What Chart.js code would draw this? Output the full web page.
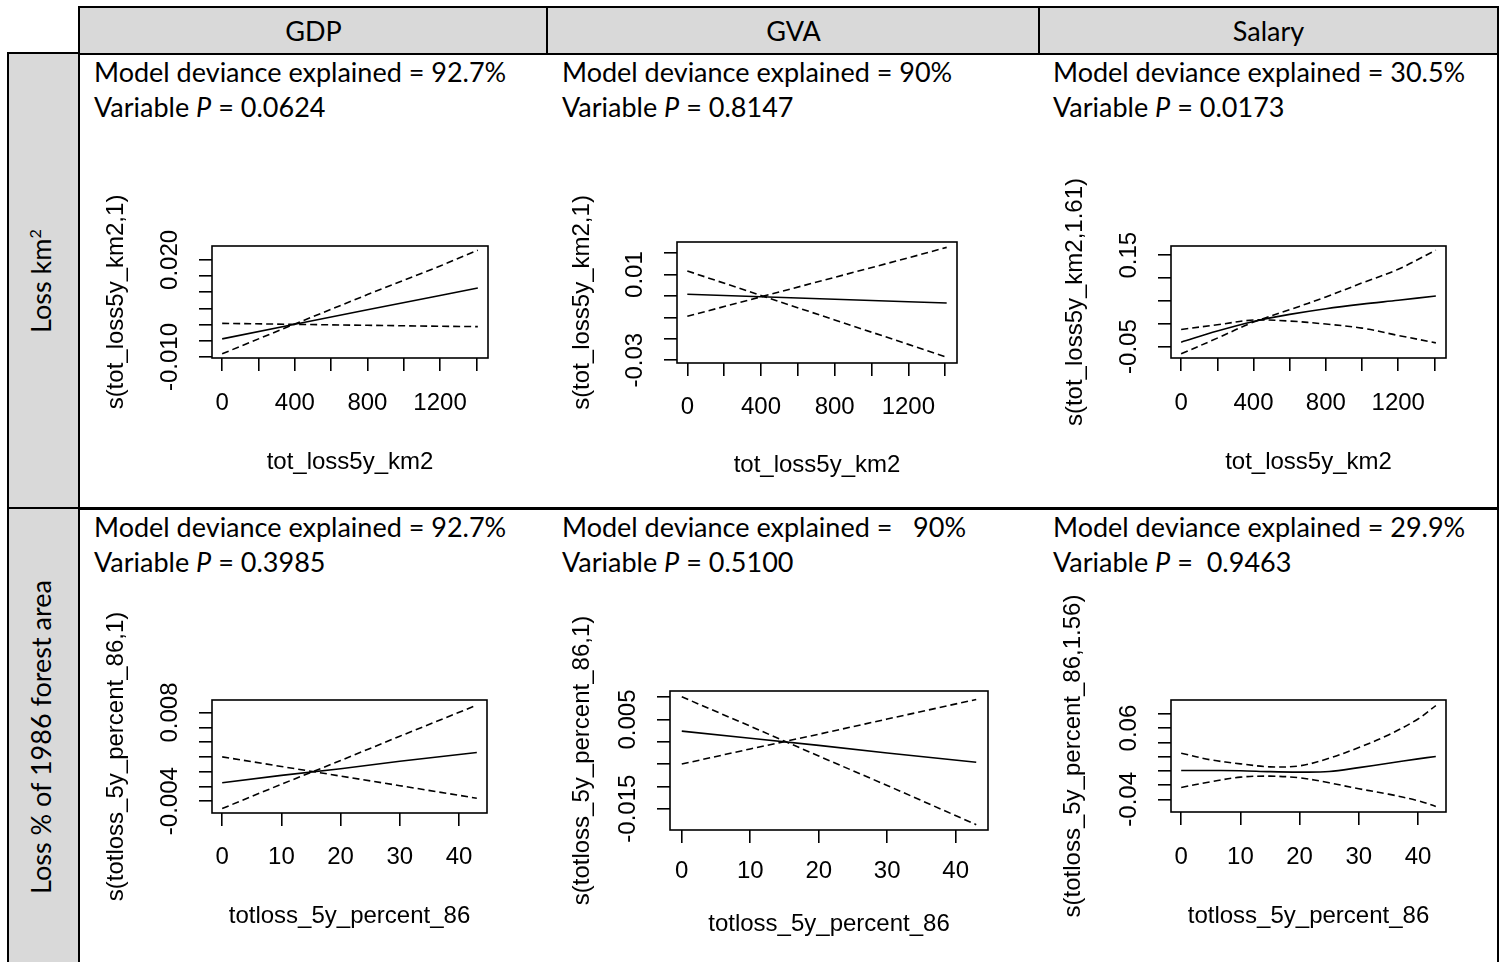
<!DOCTYPE html>
<html>
<head>
<meta charset="utf-8">
<script src="https://cdn.jsdelivr.net/npm/chart.js@4.4.1/dist/chart.umd.min.js"></script>
<style>
  body { margin: 0; width: 1501px; height: 962px; overflow: hidden; position: relative; background: #fff; font-family: Lato, "Open Sans", sans-serif; color: #000; }
  .box { position: absolute; box-sizing: border-box; border: 2px solid #000; }
  .grey { background: #d9d9d9; }
  .hdr { display: flex; align-items: center; justify-content: center; font-size: 27px; }
  .note { position: absolute; font-size: 27px; line-height: 35px; white-space: pre; }
  .side { position: absolute; font-size: 27px; white-space: nowrap; transform: translate(-50%, -50%) rotate(-90deg); }
  canvas { position: absolute; }
</style>
</head>
<body>
<!-- tabla -->
<div class="box" style="left:78px;top:52px;width:1421px;height:458px;"></div>
<div class="box" style="left:78px;top:507px;width:1421px;height:470px;"></div>
<div class="box grey" style="left:7px;top:52px;width:73px;height:458px;"></div>
<div class="box grey" style="left:7px;top:507px;width:73px;height:470px;"></div>
<div class="box grey hdr" style="left:78px;top:6px;width:471px;height:49px;">GDP</div>
<div class="box grey hdr" style="left:546px;top:6px;width:495px;height:49px;">GVA</div>
<div class="box grey hdr" style="left:1038px;top:6px;width:461px;height:49px;">Salary</div>

<div class="side" style="left:40px;top:281px;">Loss km<sup style="font-size:60%">2</sup></div>
<div class="side" style="left:40px;top:737px;">Loss % of 1986 forest area</div>

<div class="note" style="left:94px;top:54px;">Model deviance explained = 92.7%<br>Variable <i>P</i> = 0.0624</div>
<div class="note" style="left:562px;top:54px;">Model deviance explained = 90%<br>Variable <i>P</i> = 0.8147</div>
<div class="note" style="left:1053px;top:54px;">Model deviance explained = 30.5%<br>Variable <i>P</i> = 0.0173</div>
<div class="note" style="left:94px;top:509px;">Model deviance explained = 92.7%<br>Variable <i>P</i> = 0.3985</div>
<div class="note" style="left:562px;top:509px;">Model deviance explained =   90%<br>Variable <i>P</i> = 0.5100</div>
<div class="note" style="left:1053px;top:509px;">Model deviance explained = 29.9%<br>Variable <i>P</i> =  0.9463</div>

<canvas id="gdpKm"></canvas>
<canvas id="gvaKm"></canvas>
<canvas id="salKm"></canvas>
<canvas id="gdpPct"></canvas>
<canvas id="gvaPct"></canvas>
<canvas id="salPct"></canvas>

<script>
Chart.defaults.font.family = '"Liberation Sans", Arial, sans-serif';
Chart.defaults.font.size = 24;
Chart.defaults.color = '#000';

// ---- ejes ----
const kmTicks = [0, 200, 400, 600, 800, 1000, 1200, 1400];
const kmTickLabels = [0, 400, 800, 1200];
const pctTicks = [0, 10, 20, 30, 40];
const pctTickLabels = [0, 10, 20, 30, 40];

// ---- GDP ~ tot_loss5y_km2 ----
const gdpKmX = [0, 400, 800, 1200, 1408];
const gdpKmFit = [-0.0044, 0.0001, 0.0046, 0.0090, 0.0113];
const gdpKmUp = [-0.0090, 0.0002, 0.0093, 0.0181, 0.0230];
const gdpKmLo = [0.0004, 0.0001, -0.0002, -0.0005, -0.0006];
const gdpKmYTicks = [-0.010, -0.005, 0, 0.005, 0.010, 0.015, 0.020];
const gdpKmYLabels = ['-0.010', '0.020'];
const gdpKmYLabelVals = [-0.010, 0.020];

// ---- GVA ~ tot_loss5y_km2 ----
const gvaKmX = [0, 400, 800, 1200, 1408];
const gvaKmFit = [0.0008, -0.0004, -0.0015, -0.0027, -0.0033];
const gvaKmDown = [0.0117, 0.0002, -0.0112, -0.0226, -0.0286];
const gvaKmUp = [-0.0095, -0.0004, 0.0087, 0.0178, 0.0227];
const gvaKmYTicks = [-0.03, -0.02, -0.01, 0, 0.01, 0.02];
const gvaKmYLabels = ['-0.03', '0.01'];
const gvaKmYLabelVals = [-0.03, 0.01];

// ---- Salary ~ tot_loss5y_km2 ----
const salKmX = [0, 200, 400, 600, 800, 1000, 1200, 1408];
const salKmFit = [-0.0403, -0.0160, 0.0050, 0.0205, 0.0330, 0.0430, 0.0515, 0.0608];
const salKmUp = [-0.0659, -0.0315, 0.0037, 0.0308, 0.0586, 0.0894, 0.1194, 0.1612];
const salKmLo = [-0.0125, -0.0022, 0.0081, 0.0059, -0.0007, -0.0095, -0.0256, -0.0418];
const salKmYTicks = [-0.05, 0, 0.05, 0.10, 0.15];
const salKmYLabels = ['-0.05', '0.15'];
const salKmYLabelVals = [-0.05, 0.15];

// ---- GDP ~ totloss_5y_percent_86 ----
const gdpPctX = [0, 10, 20, 30, 43];
const gdpPctFit = [-0.0015, -0.0005, 0.0004, 0.0014, 0.0026];
const gdpPctUp = [-0.0050, -0.0017, 0.0015, 0.0048, 0.0090];
const gdpPctLo = [0.0020, 0.0007, -0.0006, -0.0019, -0.0036];
const gdpPctYTicks = [-0.004, -0.002, 0, 0.002, 0.004, 0.006, 0.008];
const gdpPctYLabels = ['-0.004', '0.008'];
const gdpPctYLabelVals = [-0.004, 0.008];

// ---- GVA ~ totloss_5y_percent_86 ----
const gvaPctX = [0, 10, 20, 30, 43];
const gvaPctFit = [0.0024, 0.0008, -0.0008, -0.0025, -0.0046];
const gvaPctDown = [0.0101, 0.0035, -0.0032, -0.0098, -0.0186];
const gvaPctUp = [-0.0050, -0.0016, 0.0017, 0.0051, 0.0095];
const gvaPctYTicks = [-0.015, -0.010, -0.005, 0, 0.005, 0.010];
const gvaPctYLabels = ['-0.015', '0.005'];
const gvaPctYLabelVals = [-0.015, 0.005];

// ---- Salary ~ totloss_5y_percent_86 ----
const salPctX = [0, 5, 10, 15, 20, 25, 30, 35, 40, 43];
const salPctFit = [0.0005, 0.0004, 0.0002, -0.0012, -0.0018, -0.0010, 0.0045, 0.0107, 0.0168, 0.0201];
const salPctUp = [0.0247, 0.0154, 0.0098, 0.0056, 0.0070, 0.0177, 0.0327, 0.0504, 0.0728, 0.0915];
const salPctLo = [-0.0233, -0.0154, -0.0089, -0.0075, -0.0098, -0.0168, -0.0252, -0.0327, -0.0420, -0.0500];
const salPctYTicks = [-0.04, -0.02, 0, 0.02, 0.04, 0.06, 0.08];
const salPctYLabels = ['-0.04', '0.06'];
const salPctYLabelVals = [-0.04, 0.06];

const DASH = [7, 4];
const LH = 24 * 1.2;

// Caja estilo R + etiquetas del eje y giradas
const rBoxPlugin = {
    id: 'rBox',
    afterDraw(chart, args, opts) {
        const { ctx, chartArea } = chart;
        const yScale = chart.scales.y;
        ctx.save();
        ctx.strokeStyle = '#000';
        ctx.lineWidth = 1.6;
        ctx.strokeRect(chartArea.left, chartArea.top, chartArea.right - chartArea.left, chartArea.bottom - chartArea.top);
        ctx.font = '24px "Liberation Sans", Arial, sans-serif';
        ctx.fillStyle = '#000';
        ctx.textAlign = 'center';
        ctx.textBaseline = 'middle';
        opts.vals.forEach((v, i) => {
            ctx.save();
            ctx.translate(chartArea.left - opts.off, yScale.getPixelForValue(v));
            ctx.rotate(-Math.PI / 2);
            ctx.fillText(opts.texts[i], 0, 0);
            ctx.restore();
        });
        ctx.restore();
    }
};

function makePlot(id, p) {
    const [L, T, W, H] = p.canvas;
    const box = p.box;
    const c = document.getElementById(id);
    c.style.left = L + 'px';
    c.style.top = T + 'px';
    c.width = W;
    c.height = H;

    const tickGrid = { drawOnChartArea: false, drawTicks: true, tickLength: 13, color: '#000', lineWidth: 1.6 };

    const datasets = p.series.map(s => ({
        data: p.x.map((xv, i) => ({ x: xv, y: s.y[i] })),
        borderColor: '#000',
        borderWidth: 1.6,
        borderDash: s.dash,
        pointRadius: 0,
        fill: false,
        tension: p.smooth ? 0.35 : 0
    }));

    new Chart(c.getContext('2d'), {
        type: 'line',
        data: { datasets: datasets },
        options: {
            responsive: false,
            animation: false,
            events: [],
            devicePixelRatio: 1,
            layout: { padding: { top: box.top - T, right: L + W - box.right, left: 0, bottom: 0 } },
            plugins: {
                legend: { display: false },
                tooltip: { enabled: false },
                rBox: { vals: p.yLabelVals, texts: p.yLabels, off: 42 }
            },
            scales: {
                x: {
                    type: 'linear',
                    min: p.xlim[0],
                    max: p.xlim[1],
                    afterBuildTicks: axis => { axis.ticks = p.xTicks.map(v => ({ value: v })); },
                    afterFit: axis => { axis.height = T + H - box.bottom; },
                    grid: tickGrid,
                    border: { display: false },
                    ticks: {
                        autoSkip: false, maxRotation: 0, minRotation: 0,
                        padding: p.xLabelOff - 13 - LH / 2,
                        callback: v => p.xLabels.includes(v) ? String(v) : ''
                    },
                    title: { display: true, text: p.xTitle, padding: { top: 0, bottom: T + H - p.xTitleY - LH / 2 } }
                },
                y: {
                    type: 'linear',
                    min: p.ylim[0],
                    max: p.ylim[1],
                    afterBuildTicks: axis => { axis.ticks = p.yTicks.map(v => ({ value: v })); },
                    afterFit: axis => { axis.width = box.left - L; },
                    grid: tickGrid,
                    border: { display: false },
                    ticks: { display: false },
                    title: { display: true, text: p.yTitle, padding: { top: p.yTitleX - L - LH / 2, bottom: 0 } }
                }
            }
        },
        plugins: [rBoxPlugin]
    });
}

makePlot('gdpKm', {
    canvas: [95, 170, 420, 320], box: { left: 212, right: 488, top: 246, bottom: 358 },
    x: gdpKmX, series: [{ y: gdpKmFit, dash: [] }, { y: gdpKmUp, dash: DASH }, { y: gdpKmLo, dash: DASH }],
    xlim: [-56, 1464], ylim: [-0.0103, 0.0243],
    xTicks: kmTicks, xLabels: kmTickLabels, yTicks: gdpKmYTicks, yLabels: gdpKmYLabels, yLabelVals: gdpKmYLabelVals,
    xTitle: 'tot_loss5y_km2', yTitle: 's(tot_loss5y_km2,1)', xTitleY: 462, yTitleX: 116, xLabelOff: 45
});

makePlot('gvaKm', {
    canvas: [560, 170, 430, 320], box: { left: 677, right: 957, top: 242, bottom: 363 },
    x: gvaKmX, series: [{ y: gvaKmFit, dash: [] }, { y: gvaKmDown, dash: DASH }, { y: gvaKmUp, dash: DASH }],
    xlim: [-56, 1464], ylim: [-0.0313, 0.0252],
    xTicks: kmTicks, xLabels: kmTickLabels, yTicks: gvaKmYTicks, yLabels: gvaKmYLabels, yLabelVals: gvaKmYLabelVals,
    xTitle: 'tot_loss5y_km2', yTitle: 's(tot_loss5y_km2,1)', xTitleY: 465, yTitleX: 582, xLabelOff: 44
});

makePlot('salKm', {
    canvas: [1050, 165, 440, 325], box: { left: 1171, right: 1446, top: 246, bottom: 358 },
    x: salKmX, series: [{ y: salKmFit, dash: [] }, { y: salKmUp, dash: DASH }, { y: salKmLo, dash: DASH }],
    xlim: [-56, 1464], ylim: [-0.075, 0.1703], smooth: true,
    xTicks: kmTicks, xLabels: kmTickLabels, yTicks: salKmYTicks, yLabels: salKmYLabels, yLabelVals: salKmYLabelVals,
    xTitle: 'tot_loss5y_km2', yTitle: 's(tot_loss5y_km2,1.61)', xTitleY: 462, yTitleX: 1075, xLabelOff: 45
});

makePlot('gdpPct', {
    canvas: [95, 590, 420, 355], box: { left: 212, right: 487, top: 700, bottom: 813 },
    x: gdpPctX, series: [{ y: gdpPctFit, dash: [] }, { y: gdpPctUp, dash: DASH }, { y: gdpPctLo, dash: DASH }],
    xlim: [-1.72, 44.72], ylim: [-0.0056, 0.0097],
    xTicks: pctTicks, xLabels: pctTickLabels, yTicks: gdpPctYTicks, yLabels: gdpPctYLabels, yLabelVals: gdpPctYLabelVals,
    xTitle: 'totloss_5y_percent_86', yTitle: 's(totloss_5y_percent_86,1)', xTitleY: 916, yTitleX: 116, xLabelOff: 44.5
});

makePlot('gvaPct', {
    canvas: [560, 595, 440, 355], box: { left: 670, right: 988, top: 691, bottom: 830 },
    x: gvaPctX, series: [{ y: gvaPctFit, dash: [] }, { y: gvaPctDown, dash: DASH }, { y: gvaPctUp, dash: DASH }],
    xlim: [-1.72, 44.72], ylim: [-0.0198, 0.0114],
    xTicks: pctTicks, xLabels: pctTickLabels, yTicks: gvaPctYTicks, yLabels: gvaPctYLabels, yLabelVals: gvaPctYLabelVals,
    xTitle: 'totloss_5y_percent_86', yTitle: 's(totloss_5y_percent_86,1)', xTitleY: 924, yTitleX: 582, xLabelOff: 41
});

makePlot('salPct', {
    canvas: [1050, 585, 440, 365], box: { left: 1171, right: 1446, top: 700, bottom: 812 },
    x: salPctX, series: [{ y: salPctFit, dash: [] }, { y: salPctUp, dash: DASH }, { y: salPctLo, dash: DASH }],
    xlim: [-1.72, 44.72], ylim: [-0.0578, 0.0994], smooth: true,
    xTicks: pctTicks, xLabels: pctTickLabels, yTicks: salPctYTicks, yLabels: salPctYLabels, yLabelVals: salPctYLabelVals,
    xTitle: 'totloss_5y_percent_86', yTitle: 's(totloss_5y_percent_86,1.56)', xTitleY: 916, yTitleX: 1073, xLabelOff: 45
});
</script>
</body>
</html>
